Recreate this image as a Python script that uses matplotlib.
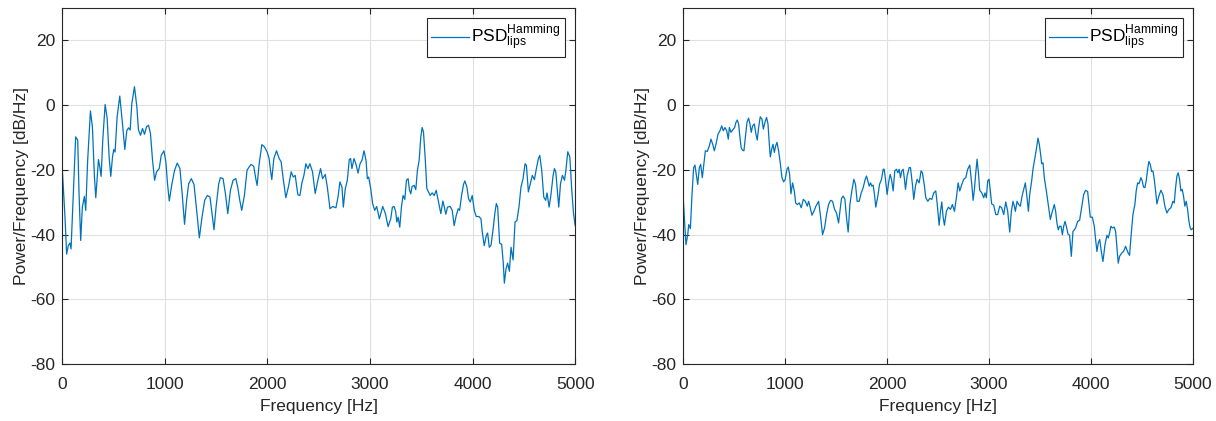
import numpy as np
import matplotlib
matplotlib.use('Agg')
import matplotlib.pyplot as plt

plt.rcParams['font.family'] = ['Liberation Sans', 'DejaVu Sans']
plt.rcParams['mathtext.default'] = 'regular'
plt.rcParams['axes.unicode_minus'] = False

# ---------------------------------------------------------------
#   Dados (frequência em Hz, PSD em dB/Hz)
# ---------------------------------------------------------------
freq_esq = [
    0, 29, 45, 62, 78, 88, 110, 133, 153, 166, 182, 198, 218, 231, 250, 277, 296, 316, 329, 345,
    355, 368, 381, 397, 420, 440, 459, 475, 492, 504, 517, 537, 563, 589, 612, 631, 648, 664, 680, 706,
    729, 745, 765, 784, 804, 823, 843, 862, 882, 902, 921, 947, 967, 993, 1012, 1028, 1045, 1071, 1097, 1123,
    1149, 1168, 1194, 1214, 1234, 1260, 1286, 1312, 1338, 1364, 1390, 1416, 1442, 1462, 1481, 1501, 1527,
    1543, 1569, 1592, 1615, 1641, 1667, 1693, 1712, 1732, 1751, 1777, 1803, 1823, 1842, 1868, 1888, 1901, 1921, 1947, 1973,
    1999, 2018, 2031, 2044, 2064, 2090, 2116, 2135, 2155, 2181, 2207, 2233, 2253, 2272, 2298, 2318, 2337, 2357, 2376, 2396,
    2415, 2441, 2467, 2493, 2519, 2539, 2565, 2585, 2611, 2637, 2669, 2689, 2708, 2728, 2741, 2760, 2780, 2799, 2812, 2825,
    2845, 2865, 2884, 2904, 2923, 2943, 2962, 2975, 2988, 3008, 3027, 3047, 3066, 3092, 3125, 3151, 3177,
    3203, 3219, 3236, 3252, 3262, 3275, 3291, 3307, 3323, 3340, 3356, 3372, 3385, 3398, 3411, 3431, 3447, 3463, 3480, 3496,
    3509, 3522, 3538, 3555, 3571, 3587, 3607, 3626, 3646, 3665, 3691, 3711, 3724, 3740, 3756, 3782, 3802, 3821, 3841, 3860,
    3874, 3893, 3912, 3925, 3945, 3961, 3978, 3997, 4017, 4036, 4062, 4082, 4095, 4114, 4134, 4147, 4163, 4180, 4199, 4219,
    4232, 4245, 4264, 4284, 4300, 4310, 4326, 4342, 4359, 4375, 4395, 4414, 4433, 4453, 4472, 4492, 4512, 4525, 4544, 4564,
    4583, 4603, 4622, 4642, 4655, 4674, 4694, 4713, 4726, 4746, 4765, 4785, 4798, 4811, 4831, 4840, 4857, 4876, 4896, 4909,
    4928, 4948, 4967, 4984, 5000,
]
psd_esq = [
    -18.3, -34.6, -46, -43.3, -42.6, -44.4, -27.4, -9.8, -10.8, -27.4, -41.8, -31.5, -28.2, -32.5, -17, -1.8, -6.7, -22.2, -28.6, -21.2,
    -16.8, -19.1, -22, -10.8, 0.2, -4.1, -16, -22, -16, -13.7, -14.5, -3.6, 2.8, -5.7, -13.7, -7.9, -7, -7.7, 0.5, 5.7,
    -0.5, -7.7, -9.3, -7.2, -9, -6.7, -6.2, -8.8, -17, -23.2, -20.6, -19.6, -15.5, -14.1, -17.5, -24.3, -29.6, -24.3, -20.1, -17.9,
    -19.6, -26.3, -36.8, -29.4, -24.3, -22.7, -24.5, -32.5, -41, -34.6, -29.4, -27.9, -28.4, -33.5, -38.5, -31.5, -24.3,
    -22.4, -22.7, -27.3, -33.5, -26.3, -23.2, -22.7, -25.3, -29.4, -32.5, -27.9, -20.1, -19.1, -18.3, -18.9, -22.7, -24.8, -18.1, -12.2, -12.9,
    -14.5, -16.5, -20.1, -23, -16.5, -14.1, -16.5, -17.5, -22.7, -28.6, -25.1, -20.6, -22.2, -21.7, -27.7, -27.9, -24.1, -21.7, -18.1, -19.6,
    -18.1, -20.6, -27.3, -23.2, -19.6, -22.7, -21.4, -25.3, -32, -31.3, -31.7, -28.4, -23.7, -25.3, -31.5, -25.8, -23.2, -16.8, -16.5, -19.6,
    -16.5, -18.3, -21, -18.1, -17, -14.1, -17, -22.7, -22.2, -25.8, -30.5, -32.5, -31.3, -35.1, -31.3, -33.5, -37.5,
    -35.1, -31.5, -31.3, -33, -36.1, -34.6, -37.7, -31.5, -27.9, -29.1, -23.2, -22.7, -26.1, -27.4, -25.1, -24.8, -26.1, -20.1, -17, -9.8,
    -6.9, -8.3, -16, -25.8, -26.8, -27.9, -27.1, -27.9, -26.3, -29.4, -33.5, -29.6, -31.3, -33.7, -31.5, -31.3, -32.5, -37.2, -34.1, -32,
    -32.5, -27.9, -24.5, -23.4, -25.3, -28.9, -29.9, -27.9, -32.5, -34.4, -34.4, -35.1, -39.2, -43.4, -40.3, -39.5, -43.9, -43.3, -38.7, -33,
    -30.4, -31.5, -42.6, -43, -49, -55, -50.6, -48.8, -51.3, -43.9, -47.8, -36.1, -35.6, -31.3, -25.3, -22.7, -18.1, -18.6, -26.8, -24.1,
    -21.7, -23, -19.6, -16.5, -15.5, -20.1, -28.4, -29.4, -27.1, -31.5, -27.4, -21.7, -19.6, -20.6, -28.4, -31.5, -24.3, -21.7, -23.2, -20.3,
    -14.4, -16, -26.3, -33.5, -37.2,
]

freq_dir = [
    0, 13, 29, 46, 56, 72, 88, 104, 117, 134, 144, 160, 173, 189, 206, 219, 238, 258, 274, 291,
    307, 323, 343, 362, 379, 395, 411, 428, 444, 454, 470, 486, 506, 519, 532, 545, 558, 571, 584, 597,
    611, 627, 643, 656, 669, 682, 699, 715, 728, 741, 757, 774, 787, 803, 819, 833, 846, 856, 869, 882,
    895, 908, 921, 937, 953, 970, 986, 1002, 1019, 1032, 1045, 1058, 1074, 1091, 1104, 1120, 1140, 1159, 1179, 1199,
    1218, 1231, 1244, 1264, 1283, 1303, 1329, 1348, 1368, 1388, 1407, 1427, 1446, 1466, 1486, 1505, 1525,
    1538, 1554, 1570, 1587, 1603, 1619, 1636, 1655, 1675, 1691, 1707, 1727, 1747, 1766, 1786, 1799, 1812, 1825, 1838, 1851,
    1864, 1877, 1890, 1910, 1926, 1946, 1962, 1972, 1985, 2001, 2018, 2031, 2044, 2060, 2076, 2093, 2106, 2119, 2132, 2145,
    2158, 2171, 2181, 2197, 2217, 2230, 2249, 2262, 2279, 2295, 2315, 2334, 2347, 2367, 2380, 2400, 2419, 2439, 2458, 2478,
    2491, 2511, 2524, 2537, 2550, 2563, 2582, 2602, 2622, 2641, 2661, 2680, 2697, 2713, 2733, 2752, 2772, 2791, 2811, 2831,
    2844, 2857, 2870, 2883, 2896, 2909, 2929, 2948, 2961, 2974, 2987, 3000, 3013, 3026, 3046, 3066, 3085, 3105, 3124, 3144,
    3164, 3183,
    3203, 3219, 3235, 3248, 3258, 3275, 3291, 3307, 3324, 3340, 3356, 3373, 3386, 3399, 3418, 3431, 3448, 3464, 3480, 3493,
    3506, 3516, 3529, 3542, 3562, 3581, 3601, 3621, 3640, 3653, 3666, 3679, 3692, 3706, 3719, 3732, 3745, 3758, 3774, 3790,
    3807, 3823, 3836, 3849, 3869, 3888, 3908, 3928, 3947, 3967, 3980, 3993, 4013, 4032, 4045, 4058, 4071, 4085, 4101, 4117,
    4137, 4156, 4169, 4182, 4195, 4208, 4228, 4241, 4254, 4267, 4280, 4300, 4319, 4339, 4352, 4365, 4378, 4391, 4411, 4430,
    4443, 4457, 4470, 4489, 4502, 4515, 4528, 4541, 4555, 4567, 4581, 4594, 4607, 4620, 4633, 4646, 4665, 4685, 4705, 4724,
    4744, 4763, 4783, 4803, 4816, 4829, 4842, 4855, 4868, 4881, 4894, 4907, 4920, 4933, 4947, 4960, 4972, 4982, 5000,
]
psd_dir = [
    -27.4, -34.8, -43.1, -40, -36.9, -38.1, -27.6, -19.3, -18.5, -22.4, -24.5, -19.3, -18.3, -22.4, -17.8, -14.1, -14.3, -12.6, -10.5, -12.1,
    -14.1, -12.1, -9, -7.9, -6.4, -7.9, -6.9, -7.9, -10.5, -6.9, -8.4, -7.7, -6.9, -5.3, -4.6, -5.8, -10, -13.3, -13.9, -14.1,
    -10, -5.3, -4, -5.8, -8.4, -6.4, -5.8, -9, -10.8, -6.9, -3.6, -4.3, -7.4, -5.3, -3.8, -5.8, -12.1, -16, -13.6, -12.1,
    -14.6, -12.6, -11.5, -14.1, -17.8, -22.4, -23.7, -22.9, -19.8, -19.1, -21.4, -27.4, -24, -26.5, -30.2, -30.7, -30.2, -31.7, -29.1, -29.7,
    -31.2, -29.7, -31.2, -34, -32.8, -31.2, -29.7, -34.3, -40, -37.9, -33.8, -30.7, -29.4, -29.7, -32.2, -33.3, -36.4,
    -32.8, -28.8, -28.1, -29.1, -34.8, -39.2, -30.7, -26.5, -22.9, -24.5, -29.7, -29.7, -27.1, -25.5, -22.9, -21.9, -23.4, -25, -24, -25,
    -24.7, -27.6, -31.5, -28.1, -24.5, -22.9, -19.8, -19.8, -22.9, -27.6, -23.4, -21.4, -22.9, -26.5, -20.3, -19.8, -20.9, -19.8, -22.4, -20.3,
    -19.8, -22.9, -26, -21.9, -19.3, -19.3, -24.5, -29.1, -25, -22.9, -24, -20.3, -20.9, -25, -28.6, -29.7, -28.8, -29.1, -27.1, -26.5,
    -30.2, -37.1, -32.8, -29.9, -34.6, -37.1, -32.8, -31.5, -32.2, -30.7, -32.8, -28.6, -24, -26.5, -24.5, -22.9, -22.4, -19.8, -18.5, -24.5,
    -29.4, -26, -20.9, -16.7, -20.9, -26.3, -27.1, -28.6, -27.1, -28.6, -23.4, -22.9, -26.5, -30.5, -30.9, -33.8, -33.8, -31.2, -31.7, -33.8,
    -29.9, -32.8,
    -39.2, -32.8, -29.7, -31.2, -32.8, -29.7, -30.7, -31.2, -28.1, -26, -24, -28.6, -32.8, -27.6, -23.4, -19.8, -16.7, -13.6, -10.2, -12.1,
    -15.2, -18.1, -17.8, -22.4, -26.5, -30.7, -35.3, -32.8, -30.7, -32.8, -36.4, -38.5, -37.4, -37.4, -40, -37.4, -35.9, -37.4, -39.8, -40.2,
    -46.7, -39, -38.5, -37.9, -35.9, -35.6, -31.7, -27.6, -26.3, -26.7, -30.5, -34.6, -34.6, -37.4, -41.5, -45.2, -42.6, -41.5, -45.2, -48.3,
    -43.1, -40.2, -41, -39.5, -37.4, -37.9, -37.7, -39, -44.1, -48.8, -46.7, -45.7, -45.2, -43.6, -44.7, -45.7, -46.4, -41, -33.8, -30.7,
    -26.5, -24, -24.3, -22.4, -23.4, -25.3, -25.5, -23.4, -19.8, -17.4, -18.3, -20.5, -20.3, -22.9, -26.5, -30.5, -28.1, -26.3, -27.6, -31.2,
    -33.3, -32.2, -31.7, -29.7, -30.2, -25.5, -21.9, -20.9, -22.9, -26.5, -26, -28.1, -31.2, -29.7, -32.2, -35.9, -37.9, -38.5, -38,
]

if len(freq_esq) != len(psd_esq) or len(freq_dir) != len(psd_dir):
    raise ValueError(f"tamanhos: {len(freq_esq)}/{len(psd_esq)}, {len(freq_dir)}/{len(psd_dir)}")

cor_linha = '#0072BD'
cor_texto = '#262626'
rotulo = r'PSD$_{lips}^{Hamming}$'

# ---------------------------------------------------------------
#   Figura com dois painéis
# ---------------------------------------------------------------
fig = plt.figure(figsize=(12.16, 4.21), dpi=100, facecolor='white')
eixos = [fig.add_axes([0.051, 0.135, 0.422, 0.846]),
         fig.add_axes([0.5617, 0.135, 0.4194, 0.846])]

for ax, f, p in zip(eixos, [freq_esq, freq_dir], [psd_esq, psd_dir]):
    ax.plot(f, p, color=cor_linha, linewidth=0.9, label=rotulo)
    ax.set_xlim(0, 5000)
    ax.set_ylim(-80, 30)
    ax.set_xticks(np.arange(0, 5001, 1000))
    ax.set_yticks(np.arange(-80, 21, 20))
    ax.grid(True, color='#e0e0e0', linewidth=0.8)
    ax.set_axisbelow(True)
    ax.tick_params(direction='in', top=True, right=True, length=4, width=0.8,
                   colors=cor_texto, labelsize=12.5)
    ax.tick_params(axis='x', pad=9)
    ax.tick_params(axis='y', pad=5)
    for s in ax.spines.values():
        s.set_color(cor_texto)
        s.set_linewidth(0.8)
    ax.set_xlabel('Frequency [Hz]', fontsize=12.5, color=cor_texto, labelpad=5)
    ax.set_ylabel('Power/Frequency [dB/Hz]', fontsize=12.5, color=cor_texto, labelpad=1)
    leg = ax.legend(loc='upper right', fontsize=12.5, fancybox=False, framealpha=1,
                    edgecolor=cor_texto, handlelength=2.2, handletextpad=0.1,
                    borderpad=0.25, borderaxespad=0.6)
    leg.get_frame().set_linewidth(0.8)

fig.savefig('out.png', dpi=100, facecolor='white')
